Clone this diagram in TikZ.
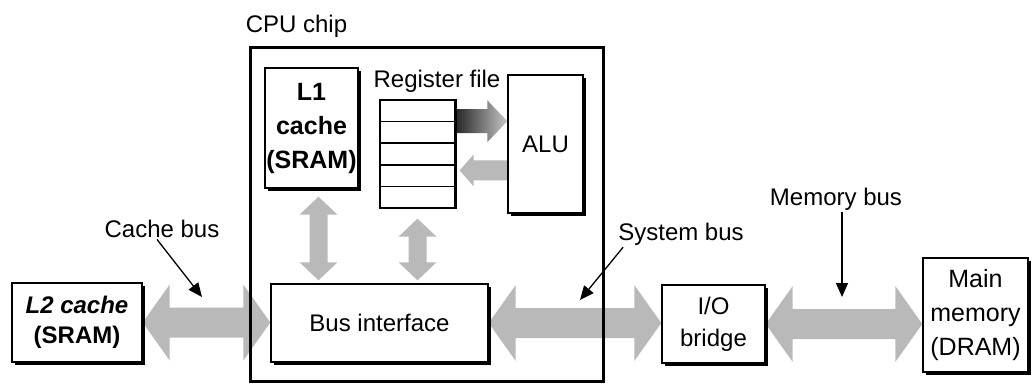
\documentclass[tikz,border=0pt]{standalone}
\usepackage{fontspec}
\setmainfont{Liberation Sans}
\usetikzlibrary{calc,shadows,arrows.meta,backgrounds}

\tikzset{
  box/.style={draw, line width=1.4pt, fill=white, align=center, inner sep=0pt,
    font=\fontsize{24}{33}\selectfont,
    drop shadow={shadow xshift=3pt, shadow yshift=-3pt, fill=black, opacity=1}},
  busfill/.style={fill=gray!55},
  lbl/.style={font=\fontsize{24}{28}\selectfont, inner sep=2pt, anchor=base},
  pointer/.style={line width=1.3pt, -{Triangle[length=14pt,width=12pt]}},
}

\newcommand{\hfat}[2]{%
  \fill[busfill] let \p1=#1, \p2=#2 in
  (\x1,\y1) -- (\x1+27pt,\y1+38pt) -- (\x1+27pt,\y1+15pt) -- (\x2-27pt,\y1+15pt)
  -- (\x2-27pt,\y1+38pt) -- (\x2,\y1) -- (\x2-27pt,\y1-38pt) -- (\x2-27pt,\y1-15pt)
  -- (\x1+27pt,\y1-15pt) -- (\x1+27pt,\y1-38pt) -- cycle;}

\newcommand{\vfat}[2]{%
  \fill[busfill] let \p1=#1, \p2=#2 in
  (\x1,\y1) -- (\x1+19pt,\y1-18pt) -- (\x1+9pt,\y1-18pt) -- (\x1+9pt,\y2+18pt)
  -- (\x1+19pt,\y2+18pt) -- (\x1,\y2) -- (\x1-19pt,\y2+18pt) -- (\x1-9pt,\y2+18pt)
  -- (\x1-9pt,\y1-18pt) -- (\x1-19pt,\y1-18pt) -- cycle;}

\newcommand{\onefat}[6]{%
  \path[#1] let \p1=#2, \p2=#3 in
  (\x1,\y1+#4) -- ({\x2-(#6)},\y1+#4) -- ({\x2-(#6)},\y1+#5) -- (\x2,\y1)
  -- ({\x2-(#6)},\y1-#5) -- ({\x2-(#6)},\y1-#4) -- (\x1,\y1-#4) -- cycle;}

\begin{document}
\begin{tikzpicture}[x=1pt,y=-1pt]
\useasboundingbox (0,0) rectangle (1032,383);

% boxes
\node[box, minimum width=93pt, minimum height=120pt,
      font=\bfseries\fontsize{25}{34}\selectfont] (l1) at (311.5,128) {L1\\cache\\(SRAM)};
\node[box, minimum width=130pt, minimum height=79pt,
      font=\bfseries\fontsize{24}{30}\selectfont] (l2) at (77,322.5) {{\itshape L2 cache}\\(SRAM)};
\node[box, minimum width=75pt, minimum height=138pt] (alu) at (545.5,144) {ALU};
\node[box, minimum width=217pt, minimum height=78pt] (bus) at (379.5,323) {Bus interface};
\node[box, minimum width=103pt, minimum height=78pt,
      font=\fontsize{24}{32}\selectfont] (io) at (713.5,324) {I/O\\bridge};
\node[box, minimum width=105pt, minimum height=114pt,
      font=\fontsize{25}{34}\selectfont] (mm) at (975.5,315) {Main\\memory\\(DRAM)};

% register file
\node[draw, line width=1.3pt, fill=white, minimum width=75pt, minimum height=108pt,
      inner sep=0pt] (rf) at (417.5,154) {};
\foreach \i in {1,...,4}
  \draw[line width=1.3pt] ($(rf.north west)!\i/5!(rf.south west)$) -- ($(rf.north east)!\i/5!(rf.south east)$);
\draw[line width=3.2pt] (rf.north east) -- (rf.south east);

% CPU chip
\node[draw, line width=3pt, minimum width=353pt, minimum height=334pt, inner sep=0pt]
  (cpu) at (426.5,214) {};

% labels
\node[lbl] (cpulbl) at (296.5,32) {CPU chip};
\node[lbl] (rflbl) at (437,87) {Register file};
\node[lbl] (cachelbl) at (162,237) {Cache bus};
\node[lbl] (syslbl) at (681,240) {System bus};
\node[lbl] (memlbl) at (836,205) {Memory bus};

% helper coordinates
\coordinate (rfa) at ($(rf.north east)!0.2!(rf.south east)$);
\coordinate (rfb) at ($(rf.north east)!0.65!(rf.south east)$);
\coordinate (v1t) at ($(l1.south)+(7,8)$);
\coordinate (v1b) at ($(bus.north -| v1t)+(0,-3)$);
\coordinate (v2t) at ($(rf.south)+(0,10)$);
\coordinate (v2b) at ($(bus.north -| v2t)+(0,-3)$);
\coordinate (cbtip) at (202,297);
\coordinate (sbtip) at (580,300);
\coordinate (mbtip) at (842,297);

% fat bus arrows
\begin{pgfonlayer}{background}
\hfat{(l2.east)}{(bus.west)}
\hfat{(bus.east)}{(io.west)}
\hfat{(io.east)}{(mm.west)}
\vfat{(v1t)}{(v1b)}
\vfat{(v2t)}{(v2b)}
\onefat{left color=black!85, right color=gray!45}{(rfa)}{(alu.west)}{12pt}{21pt}{20pt}
\onefat{fill=gray!55}{(alu.west |- rfb)}{([xshift=4pt]rfb)}{10pt}{16pt}{-14pt}
\end{pgfonlayer}

% pointers
\draw[pointer] ([xshift=-5pt]cachelbl.south) -- (cbtip);
\draw[pointer] ([xshift=7pt]syslbl.south west) -- (sbtip);
\draw[pointer] (memlbl.south -| mbtip) -- (mbtip);
\end{tikzpicture}
\end{document}
